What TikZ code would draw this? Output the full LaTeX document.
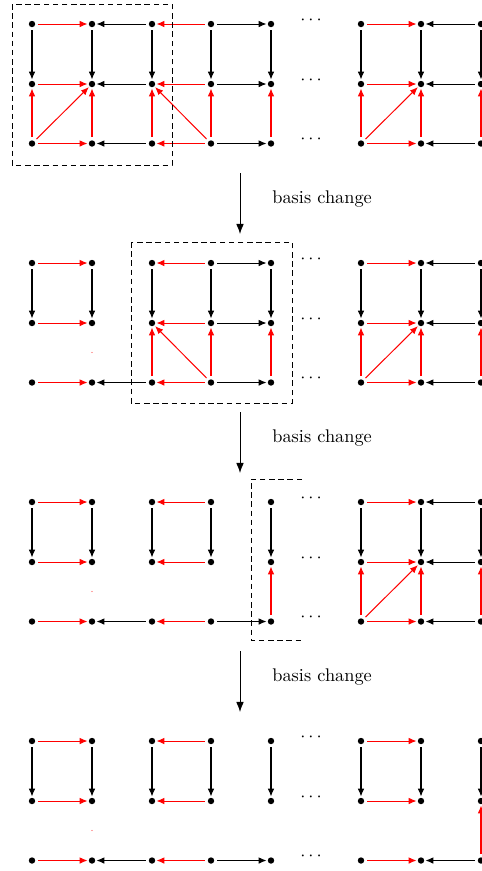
\documentclass[tikz,border=0pt]{standalone}
\usetikzlibrary{arrows.meta}
\begin{document}
\begin{tikzpicture}[x=0.5455pt,y=-0.5455pt,
  dotnode/.style={circle,fill=black,inner sep=0pt,minimum size=3.5pt},
  bk/.style={draw=black,line width=0.55pt,-{Latex[length=4.3pt,width=3.6pt]},shorten >=0.5pt,shorten <=1.5pt},
  rd/.style={draw=red,line width=0.55pt,-{Latex[length=4.3pt,width=3.6pt]},shorten >=0.5pt,shorten <=1.5pt},
  bcarrow/.style={draw=black,line width=0.5pt,-{Latex[length=5.5pt,width=4.2pt]}},
  boxline/.style={draw=black,line width=0.4pt,dash pattern=on 3pt off 2pt},
  reddot/.style={circle,fill=red!70,inner sep=0pt,minimum size=0.6pt}]
\useasboundingbox (0,0) rectangle (482,871);
\clip (0,0) rectangle (482,871);
\foreach \b/\yb in {1/24,2/263,3/502,4/741}{
  \foreach \r/\dy in {0/0,1/60,2/119.5}{
    \foreach \c/\x in {0/32,1/92,2/152,3/211,4/271,5/361,6/421,7/481}{
      \node[dotnode] (n\b\r\c) at (\x,\yb+\dy) {};
    }
    \node[anchor=base,inner sep=0pt] (d\b\r) at (311,\yb+\dy) {$\cdots$};
  }
}
% block 1
\foreach \s/\t in {100/101,103/102,110/111,113/112,120/111,123/112,120/121,123/122,120/110,121/111,122/112,123/113,124/114,105/106,115/116,125/115,126/116,127/117,125/116,125/126}
  \draw[rd] (n\s) -- (n\t);
\foreach \s/\t in {102/101,103/104,112/111,113/114,122/121,123/124,100/110,101/111,102/112,103/113,104/114,107/106,117/116,127/126,105/115,106/116,107/117}
  \draw[bk] (n\s) -- (n\t);
% block 2
\foreach \s/\t in {200/201,210/211,220/221,203/202,213/212,223/222,222/212,223/213,224/214,223/212,205/206,215/216,225/226,225/215,226/216,227/217,225/216}
  \draw[rd] (n\s) -- (n\t);
\foreach \s/\t in {200/210,201/211,222/221,203/204,213/214,223/224,202/212,203/213,204/214,207/206,217/216,227/226,205/215,206/216,207/217}
  \draw[bk] (n\s) -- (n\t);
% block 3
\foreach \s/\t in {300/301,310/311,320/321,303/302,313/312,323/322,324/314,305/306,315/316,325/326,325/315,326/316,327/317,325/316}
  \draw[rd] (n\s) -- (n\t);
\foreach \s/\t in {300/310,301/311,322/321,302/312,303/313,323/324,304/314,307/306,317/316,327/326,305/315,306/316,307/317}
  \draw[bk] (n\s) -- (n\t);
% block 4
\foreach \s/\t in {400/401,410/411,420/421,403/402,413/412,423/422,405/406,415/416,425/426,427/417}
  \draw[rd] (n\s) -- (n\t);
\foreach \s/\t in {400/410,401/411,422/421,402/412,403/413,423/424,404/414,405/415,406/416,407/417,427/426}
  \draw[bk] (n\s) -- (n\t);
% tiny red marks
\node[reddot] (m2) at (92,352.5) {};
\node[reddot] (m3) at (92,591.5) {};
\node[reddot] (m4) at (92,830.5) {};
% dashed boxes
\draw[boxline] (12,4) rectangle (172,165);
\draw[boxline] (131,242) rectangle (292,403);
\draw[boxline] (302,479) -- (251,479) -- (251,640) -- (302,640);
% basis change arrows
\foreach \i/\ya in {1/173,2/412,3/651}{
  \coordinate (as\i) at (240,\ya);
  \coordinate (ae\i) at (240,\ya+61);
  \draw[bcarrow] (as\i) -- (ae\i);
  \node[anchor=west,inner sep=0pt] (lb\i) at (272,\ya+26) {basis change};
}
\end{tikzpicture}
\end{document}
